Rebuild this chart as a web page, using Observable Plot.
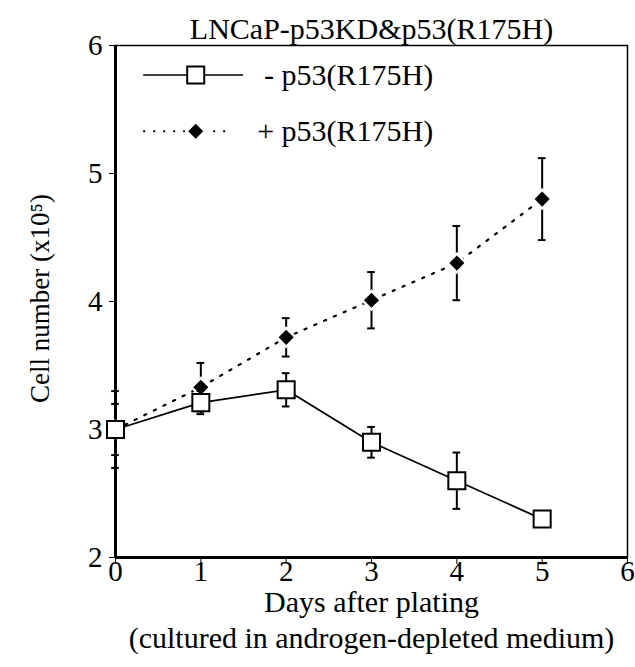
<!DOCTYPE html>
<html>
<head>
<meta charset="utf-8">
<script src="https://cdn.jsdelivr.net/npm/d3@7"></script>
<script src="https://cdn.jsdelivr.net/npm/@observablehq/plot@0.6"></script>
<style>
  html, body { margin: 0; padding: 0; background: #fff; }
  svg { display: block; }
</style>
</head>
<body>
<div id="chart"></div>
<script>
// ---- data ----
const days = [0, 1, 2, 3, 4, 5];
const minusMean = [3.0, 3.21, 3.31, 2.9, 2.6, 2.3];
const minusErr  = [0.2, 0.09, 0.13, 0.12, 0.22, 0.05];
const plusMean  = [3.0, 3.33, 3.72, 4.01, 4.30, 4.80];
const plusErr   = [0.3, 0.19, 0.15, 0.22, 0.29, 0.32];
const xTicks = [0, 1, 2, 3, 4, 5, 6];
const yTicks = [2, 3, 4, 5, 6];
const titleText = "LNCaP-p53KD&p53(R175H)";
const xLabel = "Days after plating";
const captionText = "(cultured in androgen-depleted medium)";
const yLabel = "Cell number (x10\u2075)";
const seriesNames = ["- p53(R175H)", "+ p53(R175H)"];

const minus = days.map((d, i) => ({day: d, v: minusMean[i], e: minusErr[i]}));
const plus  = days.map((d, i) => ({day: d, v: plusMean[i],  e: plusErr[i]}));
const capHalf = 0.045;

// legend placed in data space
const legMinus = {y: 5.77, x1: 0.33, x2: 1.5, xs: 0.94, xt: 1.74};
const legPlus  = {y: 5.33, x1: 0.33, x2: 1.32, xs: 0.94, xt: 1.66};

const font = "'Liberation Serif', 'Times New Roman', serif";

function errMarks(data) {
  return [
    Plot.ruleX(data, {x: "day", y1: d => d.v - d.e, y2: d => d.v + d.e, stroke: "black", strokeWidth: 2}),
    Plot.ruleY(data, {y: d => d.v + d.e, x1: d => d.day - capHalf, x2: d => d.day + capHalf, stroke: "black", strokeWidth: 2}),
    Plot.ruleY(data, {y: d => d.v - d.e, x1: d => d.day - capHalf, x2: d => d.day + capHalf, stroke: "black", strokeWidth: 2})
  ];
}

const chart = Plot.plot({
  width: 635,
  height: 667,
  marginTop: 45,
  marginLeft: 115,
  marginRight: 8,
  marginBottom: 110,
  style: {fontFamily: font, background: "white", color: "black", overflow: "visible"},
  x: {domain: [0, 6], ticks: xTicks},
  y: {domain: [2, 6], ticks: yTicks},
  marks: [
    Plot.frame({stroke: "black", strokeWidth: 1.5}),
    Plot.axisX({ticks: xTicks, tickSize: 7, text: null, label: null}),
    Plot.axisY({ticks: yTicks, tickSize: 6, text: null, label: null}),
    Plot.text(xTicks, {x: d => d, frameAnchor: "bottom", dy: 23, text: d => String(d), fontSize: 29}),
    Plot.text(yTicks, {y: d => d, frameAnchor: "left", dx: -13, textAnchor: "end", text: d => String(d), fontSize: 29}),
    Plot.ruleX([0], {stroke: "black", strokeWidth: 3}),
    Plot.ruleY([2], {stroke: "black", strokeWidth: 3}),
    // + series
    ...errMarks(plus),
    Plot.line(plus, {x: "day", y: "v", stroke: "black", strokeWidth: 2.2, strokeDasharray: "2.2,8.5"}),
    Plot.dot(plus, {x: "day", y: "v", symbol: "diamond2", r: 6.8, fill: "black", stroke: "white", strokeWidth: 5, paintOrder: "stroke"}),
    // - series
    ...errMarks(minus),
    Plot.line(minus, {x: "day", y: "v", stroke: "black", strokeWidth: 1.8}),
    Plot.dot(minus, {x: "day", y: "v", symbol: "square", r: 9.6, fill: "white", stroke: "black", strokeWidth: 2}),
    // legend
    Plot.ruleY([legMinus], {y: "y", x1: "x1", x2: "x2", stroke: "black", strokeWidth: 1.5}),
    Plot.dot([legMinus], {x: "xs", y: "y", symbol: "square", r: 9.6, fill: "white", stroke: "black", strokeWidth: 2}),
    Plot.text([legMinus], {x: "xt", y: "y", text: () => seriesNames[0], textAnchor: "start", fontSize: 30}),
    Plot.ruleY([legPlus], {y: "y", x1: "x1", x2: "x2", stroke: "black", strokeWidth: 2, strokeDasharray: "2,8"}),
    Plot.dot([legPlus], {x: "xs", y: "y", symbol: "diamond2", r: 6.8, fill: "black", stroke: "white", strokeWidth: 5, paintOrder: "stroke"}),
    Plot.text([legPlus], {x: "xt", y: "y", text: () => seriesNames[1], textAnchor: "start", fontSize: 30}),
    // titles
    Plot.text([titleText], {frameAnchor: "top", dy: -28, text: d => d, fontSize: 30}),
    Plot.text([xLabel], {frameAnchor: "bottom", dy: 54, text: d => d, fontSize: 30}),
    Plot.text([captionText], {frameAnchor: "bottom", dy: 90, text: d => d, fontSize: 30}),
    Plot.text([yLabel], {frameAnchor: "left", dx: -75, dy: -3, rotate: -90, textAnchor: "middle", text: d => d, fontSize: 27})
  ]
});
document.getElementById("chart").appendChild(chart);
</script>
</body>
</html>
